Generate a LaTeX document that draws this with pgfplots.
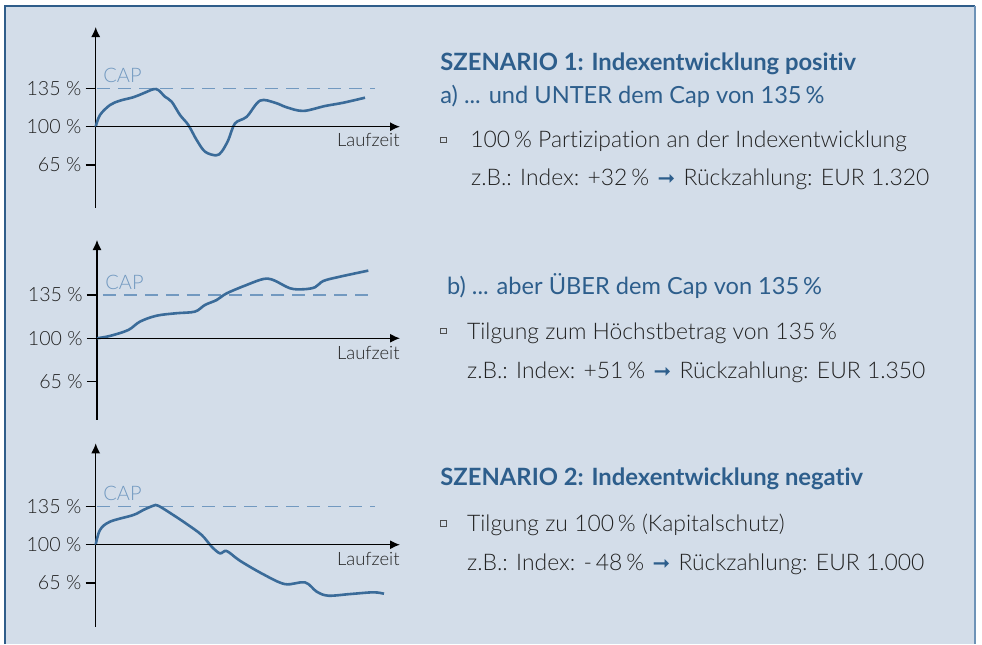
\documentclass[border=0pt]{standalone}
\usepackage{fontspec}
\setmainfont{Lato}[Ligatures={NoCommon}]
\IfFontExistsTF{Lato Light}{\newfontfamily\bodyfont{Lato Light}[Ligatures={NoCommon}]}{\newfontfamily\bodyfont{Lato}[Ligatures={NoCommon}]}
\newfontfamily\symfont{DejaVu Sans}
\usepackage{pgfplots}
\pgfplotsset{compat=1.18}
\usetikzlibrary{arrows.meta}
\definecolor{bgc}{HTML}{D3DDE9}
\definecolor{bordD}{HTML}{2F5D8A}
\definecolor{bordL}{HTML}{6E93B7}
\definecolor{headblue}{HTML}{2D5E8C}
\definecolor{curvec}{HTML}{3A6B99}
\definecolor{capc}{HTML}{7299C0}
\definecolor{txt}{HTML}{222222}
\pgfplotsset{mini/.style={
  scale only axis, clip=false,
  axis y line=left, axis x line=none,
  xtick=\empty, ytick={65,100,135},
  yticklabels={65 \%,100 \%,135 \%},
  tick align=outside, major tick length=5pt,
  every outer y axis line/.append style={line width=0.6pt,-{Latex[length=5pt,width=4.5pt]}},
  y axis line style={line width=0.6pt,-{Latex[length=5pt,width=4.5pt]}},
  ytick style={line width=0.6pt, black},
  yticklabel style={font=\bodyfont\fontsize{9.8}{10}\selectfont, text=txt, inner sep=0pt, xshift=-2pt},
}}
\newcommand{\arr}{\hspace{0.1em}{\color{headblue}\symfont\fontsize{10.5}{10}\selectfont ➞}\hspace{0.1em}}
\begin{document}
\begin{tikzpicture}
\useasboundingbox (0,0) rectangle (491pt,322pt);
\fill[bgc] (2.5pt,0) rectangle (487.5pt,319pt);
\draw[bordD, line width=1.2pt] (2.5pt,0) -- (2.5pt,319pt) -- (487.5pt,319pt);
\draw[bordL, line width=1.2pt] (487.5pt,319pt) -- (487.5pt,0);

% Plot 1
\begin{axis}[mini, at={(47.85pt,218pt)}, anchor=south west,
  width=152.15pt, height=90.5pt, xmin=95.7, xmax=400, ymin=25.7, ymax=191.1]
\addplot[capc, line width=0.6pt, dash pattern=on 6.5pt off 4pt] coordinates {(97,135) (375,135)};
\addplot[curvec, line width=1.3pt, smooth, tension=0.55, no markers] coordinates {
(95.7,100) (100,110.7) (110,119.8) (120,123.8) (133.3,126.9) (143.3,130.5) (153.3,134.2) (158.3,133.5)
(165,127.4) (171.7,122.8) (180,110.7) (188.3,101.6) (196.7,87.8) (205,77.2) (216,73.8) (221.7,77.2)
(228.3,87.8) (235,103) (246.7,109.1) (260,123.8) (275,121.9) (286.7,117.7) (303.3,114.4) (325,118.9)
(343.3,121.9) (365,126.5)};
\draw[line width=0.6pt,-{Latex[length=5pt,width=4.5pt]}] (axis cs:95.7,100) -- (axis cs:400,100);
\node[anchor=base west, inner sep=0pt, text=capc, font=\bodyfont\fontsize{10}{10}\selectfont] at (axis cs:103,135) [yshift=3pt] {CAP};
\node[anchor=base east, inner sep=0pt, text=txt, font=\bodyfont\fontsize{9.2}{10}\selectfont] at (axis cs:400,100) [yshift=-10pt] {Laufzeit};
\end{axis}

% Plot 2
\begin{axis}[mini, at={(48.5pt,112pt)}, anchor=south west,
  width=151.5pt, height=90pt, xmin=97, xmax=400, ymin=33.8, ymax=179.6]
\addplot[capc, line width=0.6pt, dash pattern=on 6.5pt off 4pt] coordinates {(103,135) (372,135)};
\addplot[curvec, line width=1.3pt, smooth, tension=0.55, no markers] coordinates {
(97,100) (110,101.9) (128.3,106.7) (140,113.5) (156.7,118.3) (176.7,120.3) (195,121.6) (205,127)
(216.7,131) (226.7,136.4) (246.7,143.2) (263.3,148) (273.3,147.2) (290,140.5) (303.3,139.7) (315,141.3)
(323.3,146.4) (340,149.9) (368.3,154.8)};
\draw[line width=0.6pt,-{Latex[length=5pt,width=4.5pt]}] (axis cs:97,100) -- (axis cs:400,100);
\node[anchor=base west, inner sep=0pt, text=capc, font=\bodyfont\fontsize{10}{10}\selectfont] at (axis cs:105,135) [yshift=3pt] {CAP};
\node[anchor=base east, inner sep=0pt, text=txt, font=\bodyfont\fontsize{9.2}{10}\selectfont] at (axis cs:400,100) [yshift=-10.8pt] {Laufzeit};
\end{axis}

% Plot 3
\begin{axis}[mini, at={(47.85pt,8.65pt)}, anchor=south west,
  width=152.15pt, height=91.7pt, xmin=95.7, xmax=400, ymin=24.9, ymax=192.9]
\addplot[capc, line width=0.6pt, dash pattern=on 6.5pt off 4pt] coordinates {(97,135) (375,135)};
\addplot[curvec, line width=1.3pt, smooth, tension=0.55, no markers] coordinates {
(95.7,100) (100,113.5) (110,121.1) (133.3,127.2) (143.3,131.8) (153.3,135.7) (158.3,135.7) (173.3,127.2)
(186.7,119) (201.7,108.9) (211.7,98.2) (220,92.1) (226.7,94.2) (240,85.3) (263.3,72.9) (285,63.9)
(305,65.5) (316.7,57) (328.3,53.3) (350,54.8) (373.3,56.4) (384,55.1)};
\draw[line width=0.6pt,-{Latex[length=5pt,width=4.5pt]}] (axis cs:95.7,100) -- (axis cs:400,100);
\node[anchor=base west, inner sep=0pt, text=capc, font=\bodyfont\fontsize{10}{10}\selectfont] at (axis cs:103,135) [yshift=3pt] {CAP};
\node[anchor=base east, inner sep=0pt, text=txt, font=\bodyfont\fontsize{9.2}{10}\selectfont] at (axis cs:400,100) [yshift=-10.5pt] {Laufzeit};
\end{axis}

% Text
\tikzset{hd/.style={anchor=base west, inner sep=0pt, text=headblue, font=\fontsize{11.8}{14}\selectfont},
         bd/.style={anchor=base west, inner sep=0pt, text=txt, font=\bodyfont\fontsize{11.45}{14}\selectfont},
         bul/.style={draw=txt!80, line width=0.4pt, minimum size=2.8pt, inner sep=0pt}}
\node[hd, font=\fontsize{11.9}{14}\selectfont\bfseries] at (220pt,286.5pt) {SZENARIO 1: Indexentwicklung positiv};
\node[hd] at (220pt,270pt) {a) ... und UNTER dem Cap von 135\,\%};
\node[bul] at (221.75pt,252pt) {};
\node[bd] at (235pt,248.35pt) {100\,\% Partizipation an der Indexentwicklung};
\node[bd] at (235.35pt,229.15pt) {z.B.: Index: +32\,\% \arr{} Rückzahlung: EUR 1.320};

\node[hd] at (223.35pt,174.5pt) {b) ... aber ÜBER dem Cap von 135\,\%};
\node[bul] at (221.75pt,156.5pt) {};
\node[bd] at (233.35pt,152.35pt) {Tilgung zum Höchstbetrag von 135\,\%};
\node[bd] at (233.35pt,132.85pt) {z.B.: Index: +51\,\% \arr{} Rückzahlung: EUR 1.350};

\node[hd, font=\fontsize{11.9}{14}\selectfont\bfseries] at (220pt,79pt) {SZENARIO 2: Indexentwicklung negativ};
\node[bul] at (221.75pt,60.35pt) {};
\node[bd] at (233.35pt,56.15pt) {Tilgung zu 100\,\% (Kapitalschutz)};
\node[bd] at (233.35pt,37pt) {z.B.: Index: -\,48\,\% \arr{} Rückzahlung: EUR 1.000};
\end{tikzpicture}
\end{document}
